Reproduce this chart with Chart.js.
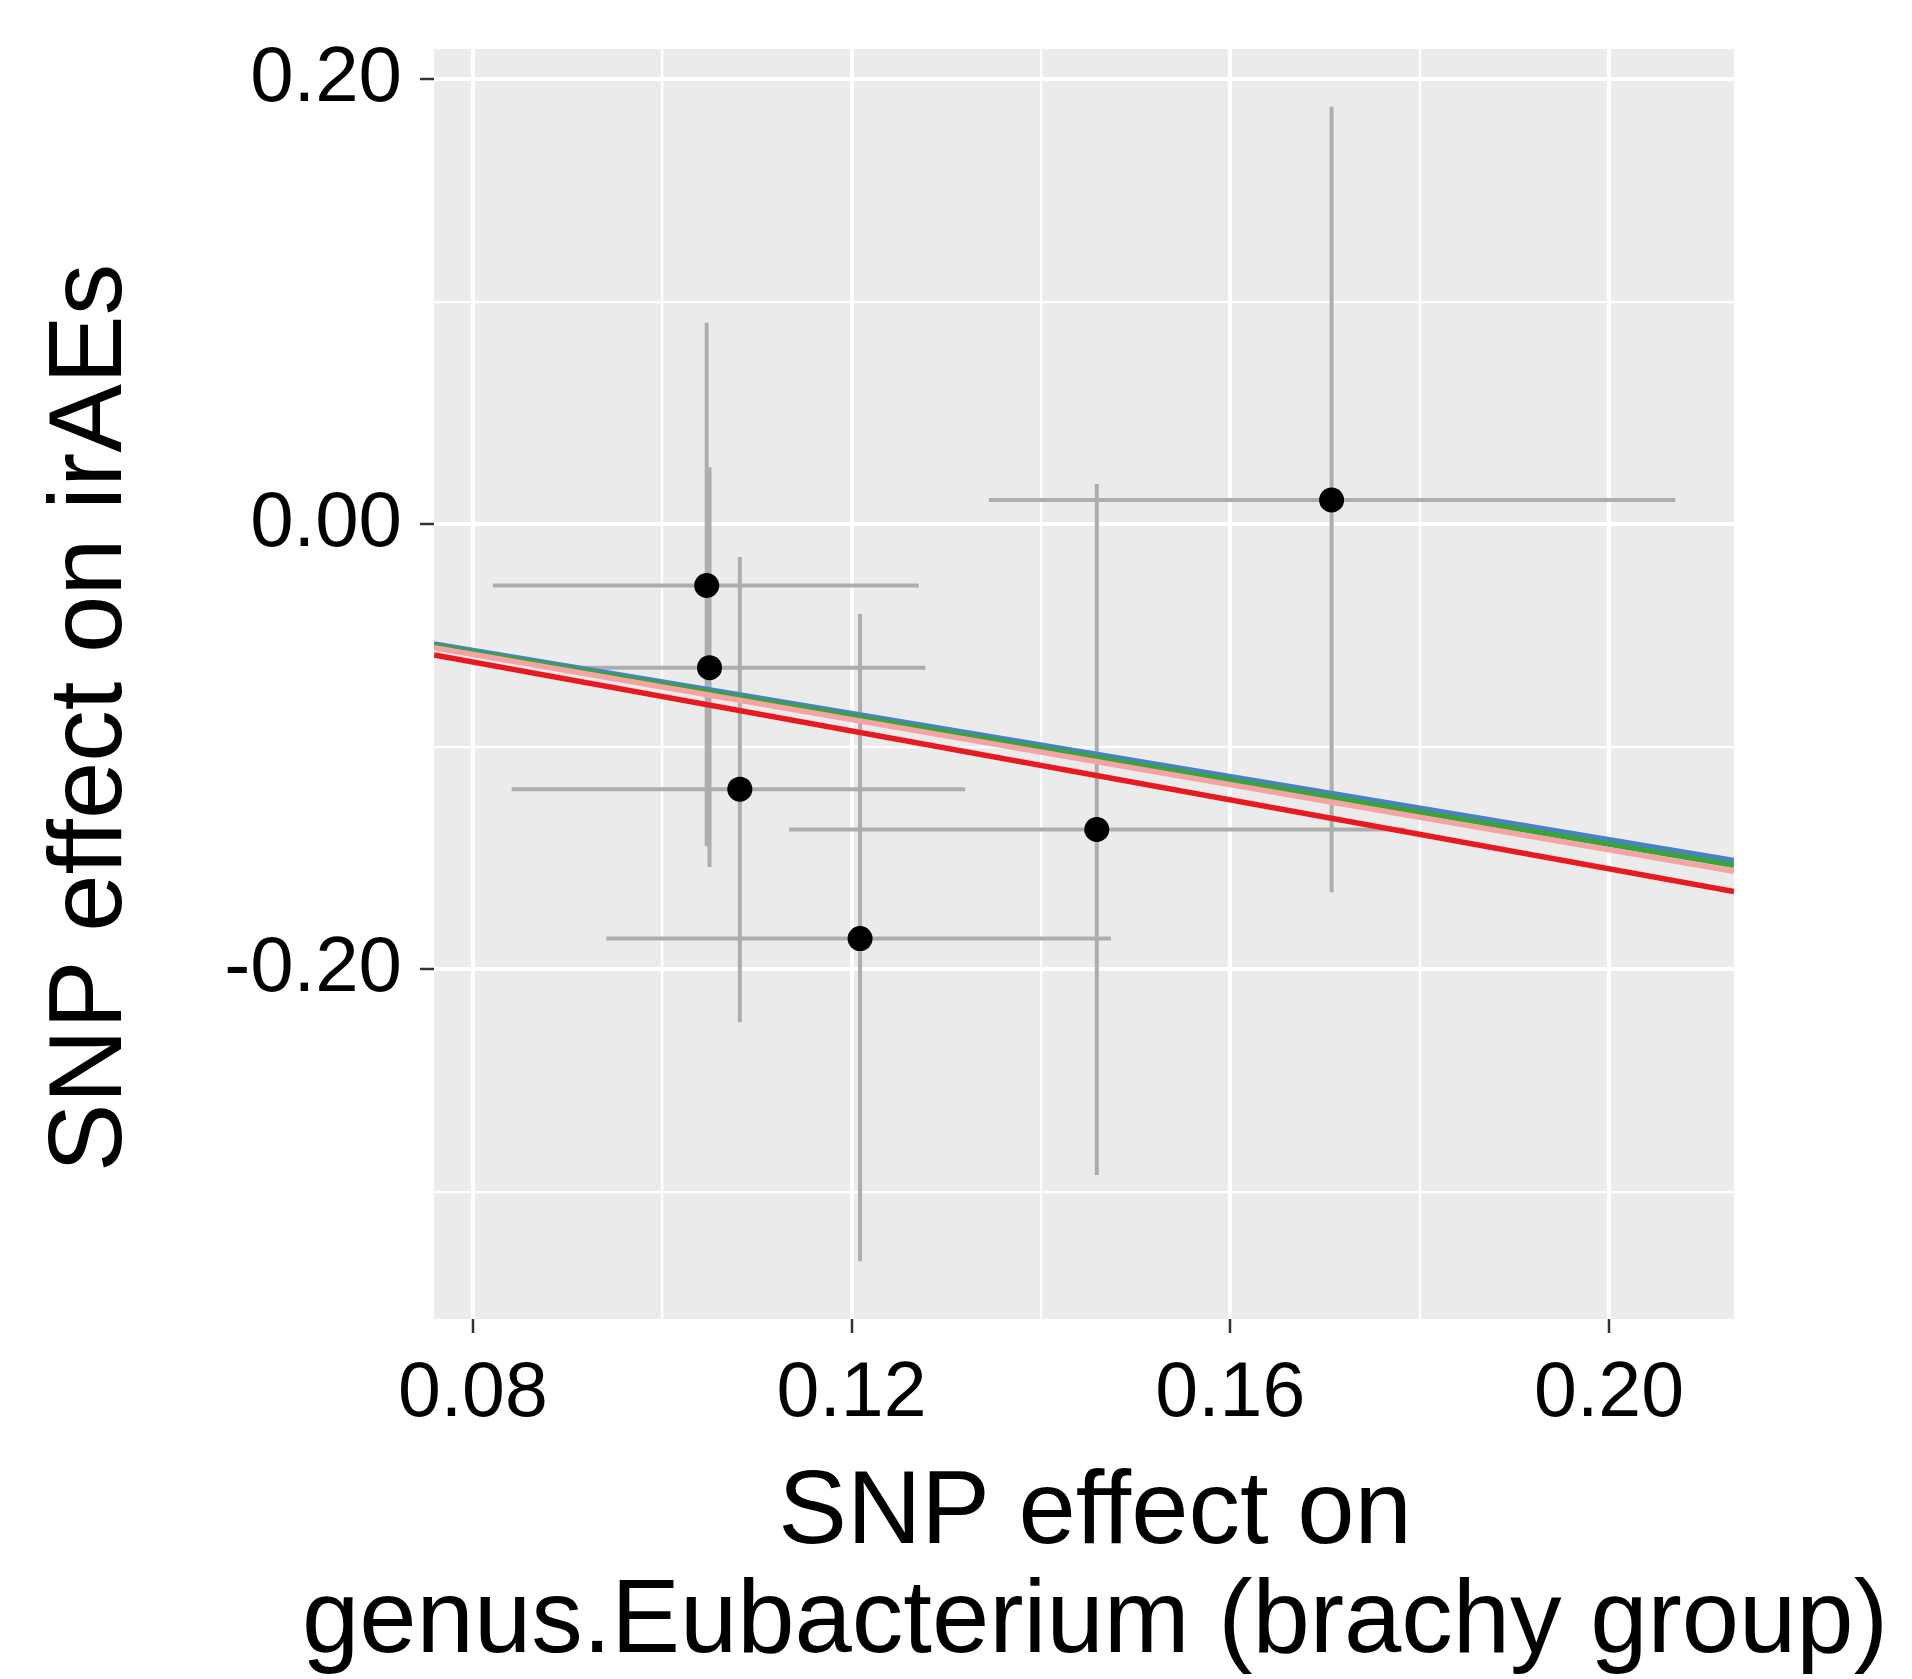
<!DOCTYPE html>
<html>
<head>
<meta charset="utf-8">
<title>SNP effect on irAEs</title>
<script src="https://cdn.jsdelivr.net/npm/chart.js@4.4.1/dist/chart.umd.min.js"></script>
<style>
  html, body { margin: 0; padding: 0; background: #fff; }
  #chart { display: block; }
</style>
</head>
<body>
<canvas id="chart" width="1912" height="1679"></canvas>
<script>
// SNP estimates
const snpExposure = [0.1047, 0.1050, 0.1082, 0.1209, 0.1459, 0.1707];
const snpOutcome = [-0.0275, -0.0644, -0.1190, -0.1861, -0.1371, 0.0109];
const exposureLow = [0.0821, 0.0890, 0.0841, 0.0941, 0.1134, 0.1345];
const exposureHigh = [0.1271, 0.1278, 0.1320, 0.1474, 0.1785, 0.2070];
const outcomeLow = [-0.1446, -0.1540, -0.2237, -0.3311, -0.2923, -0.1653];
const outcomeHigh = [0.0905, 0.0256, -0.0147, -0.0403, 0.0181, 0.1876];

// MR method fits (lines through origin), top to bottom at the right edge
const methodNames = ['method 1', 'method 2', 'method 3', 'method 4'];
const methodSlopes = [-0.7087, -0.7184, -0.7312, -0.7738];
const methodColors = ['#4a82c6', '#3aa33c', '#f5a3a3', '#e8191f'];

// axes
const xMin = 0.0759, xMax = 0.2132;
const yMin = -0.357, yMax = 0.2135;
const xGridValues = [0.08, 0.10, 0.12, 0.14, 0.16, 0.18, 0.20];
const xTickLabels = ['0.08', '', '0.12', '', '0.16', '', '0.20'];
const yGridValues = [-0.3, -0.2, -0.1, 0, 0.1, 0.2];
const yTickLabels = ['', '-0.20', '', '0.00', '', '0.20'];

const xTitleLines = ['SNP effect on', 'genus.Eubacterium (brachy group)'];
const yTitle = 'SNP effect on irAEs';

const FONT = "'Liberation Sans', Arial, Helvetica, sans-serif";

// error bars as one line dataset each, broken by gaps
const hBarData = [];
const vBarData = [];
snpExposure.forEach((x, i) => {
    hBarData.push({ x: exposureLow[i], y: snpOutcome[i] });
    hBarData.push({ x: exposureHigh[i], y: snpOutcome[i] });
    hBarData.push({ x: exposureHigh[i], y: null });
    vBarData.push({ x: x, y: outcomeLow[i] });
    vBarData.push({ x: x, y: outcomeHigh[i] });
    vBarData.push({ x: x, y: null });
});

// first dataset ends up on top
const lineDatasets = methodNames.map((name, i) => ({
    type: 'line',
    label: name,
    data: [
        { x: xMin, y: methodSlopes[i] * xMin },
        { x: xMax, y: methodSlopes[i] * xMax }
    ],
    borderColor: methodColors[i],
    borderWidth: 5.5,
    pointRadius: 0,
    clip: 0
})).reverse();

const panelBackground = {
    id: 'panelBackground',
    beforeDraw(chart) {
        const { ctx, chartArea: a } = chart;
        ctx.save();
        ctx.fillStyle = '#ebebeb';
        ctx.fillRect(a.left, a.top, a.right - a.left, a.bottom - a.top);
        ctx.restore();
    }
};

// axis titles: the x title is wider than the panel, so both are drawn here
const axisTitles = {
    id: 'axisTitles',
    afterDraw(chart) {
        const { ctx, chartArea: a } = chart;
        const cx = (a.left + a.right) / 2 + 11;
        ctx.save();
        ctx.fillStyle = '#000';
        ctx.font = '103px ' + FONT;
        ctx.textAlign = 'center';
        ctx.textBaseline = 'alphabetic';
        ctx.fillText(xTitleLines[0], cx, 1543);
        ctx.fillText(xTitleLines[1], cx, 1652);

        ctx.translate(121, (a.top + a.bottom) / 2 + 34);
        ctx.rotate(-Math.PI / 2);
        ctx.fillText(yTitle, 0, 0);
        ctx.restore();
    }
};

new Chart(document.getElementById('chart'), {
    type: 'scatter',
    data: {
        datasets: [
            ...lineDatasets,
            {
                type: 'scatter',
                label: 'SNPs',
                data: snpExposure.map((x, i) => ({ x: x, y: snpOutcome[i] })),
                backgroundColor: '#000',
                borderColor: '#000',
                pointRadius: 12.5,
                borderWidth: 0
            },
            {
                type: 'line',
                label: 'outcome se',
                data: vBarData,
                borderColor: '#adadad',
                borderWidth: 4,
                pointRadius: 0,
                spanGaps: false
            },
            {
                type: 'line',
                label: 'exposure se',
                data: hBarData,
                borderColor: '#adadad',
                borderWidth: 4,
                pointRadius: 0,
                spanGaps: false
            }
        ]
    },
    options: {
        responsive: false,
        devicePixelRatio: 1,
        animation: false,
        layout: { padding: { top: 49, right: 178, left: 0, bottom: 0 } },
        plugins: {
            legend: { display: false },
            tooltip: { enabled: false }
        },
        scales: {
            x: {
                type: 'linear',
                min: xMin,
                max: xMax,
                afterBuildTicks: scale => { scale.ticks = xGridValues.map(v => ({ value: v })); },
                afterFit: scale => { scale.height = 360; },
                border: { display: false },
                grid: {
                    color: '#ffffff',
                    lineWidth: ctx => xTickLabels[ctx.index] ? 4 : 2.2,
                    tickLength: 14,
                    tickWidth: 2.5,
                    tickColor: ctx => xTickLabels[ctx.index] ? '#333333' : 'rgba(0,0,0,0)'
                },
                ticks: {
                    autoSkip: false,
                    maxRotation: 0,
                    padding: 16,
                    color: '#000',
                    font: { family: FONT, size: 77 },
                    callback: (value, index) => xTickLabels[index]
                }
            },
            y: {
                type: 'linear',
                min: yMin,
                max: yMax,
                afterBuildTicks: scale => { scale.ticks = yGridValues.map(v => ({ value: v })); },
                afterFit: scale => { scale.width = 434; },
                border: { display: false },
                grid: {
                    color: '#ffffff',
                    lineWidth: ctx => yTickLabels[ctx.index] ? 4 : 2.2,
                    tickLength: 14,
                    tickWidth: 2.5,
                    tickColor: ctx => yTickLabels[ctx.index] ? '#333333' : 'rgba(0,0,0,0)'
                },
                ticks: {
                    autoSkip: false,
                    padding: 18,
                    color: '#000',
                    font: { family: FONT, size: 78, lineHeight: 0.75 },
                    callback: (value, index) => yTickLabels[index]
                }
            }
        }
    },
    plugins: [panelBackground, axisTitles]
});
</script>
</body>
</html>
